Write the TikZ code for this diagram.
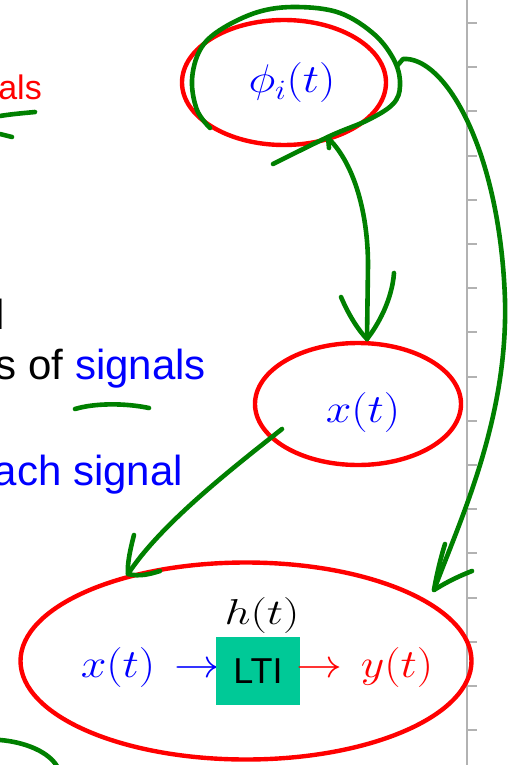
\RequirePackage{fix-cm}
\documentclass[tikz,border=0pt]{standalone}
\usepackage[no-math]{fontspec}
\setmainfont{Liberation Sans}
\usepackage{graphicx}
\usetikzlibrary{positioning}
\definecolor{ltigreen}{RGB}{0,201,151}
\definecolor{inkgreen}{RGB}{0,128,0}
\definecolor{rulegray}{RGB}{178,178,178}
\newcommand{\widemath}[2][1.15]{\scalebox{#1}[1]{#2}}

\begin{document}
\begin{tikzpicture}[x=1pt, y=-1pt,
  ink/.style={inkgreen, line width=4.6pt, line cap=round, line join=round},
  ring/.style={red, line width=4.4pt},
  slide/.style={inner sep=0pt, font=\fontsize{42}{50}\selectfont},
  sym/.style={inner sep=0pt, font=\fontsize{40}{48}\selectfont}]
  \useasboundingbox (0,0) rectangle (515,765);
  % ruler on the right
  \draw[rulegray, line width=2pt] (467,0) -- (467,765);
  \foreach \k in {0,...,16}
    \draw[rulegray, line width=2pt] (467,23+44.2*\k) -- (477,23+44.2*\k);

  % cropped slide text
  \node[slide, red, anchor=base east, font=\fontsize{34}{40}\selectfont] (als) at (42,100) {als};
  \node[slide, anchor=base west] (lcut) at (-4.5,329) {l};
  \node[slide, anchor=base east] (sig) at (206,379) {s of \textcolor{blue}{signals}};
  \node[slide, blue, anchor=base east] (each) at (183,485) {ach signal};

  % red rings
  \draw[ring] (284,82.5) ellipse [x radius=102, y radius=62.5];
  \draw[ring] (358,404) ellipse [x radius=103, y radius=61];
  \draw[ring] (246,661) ellipse [x radius=225.5, y radius=98.5];

  % labels
  \node[sym, blue, anchor=base] (phi) at (292,93) {\widemath{$\phi_i(t)$}};
  \node[sym, blue, anchor=base] (xsig) at (363,422) {\widemath{$x(t)$}};
  \node[sym, anchor=base, font=\fontsize{36}{42}\selectfont] (hlab) at (262,624) {\widemath[1.28]{$h(t)$}};
  \node[sym, blue, anchor=base] (xin) at (118,677) {\widemath{$x(t)$}};
  \node[sym, blue, anchor=base] (ain) at (197,677) {\widemath{$\rightarrow$}};
  \node[fill=ltigreen, minimum width=84, minimum height=68, inner sep=0pt,
        font=\fontsize{36}{42}\selectfont] (lti) at (258,671) {LTI};
  \node[sym, red, anchor=base] (aout) at (319,677) {\widemath{$\rightarrow$}};
  \node[sym, red, anchor=base] (yout) at (397,677) {\widemath{$y(t)$}};

  % hand strokes
  \draw[ink] (0,116) .. controls (12,114) and (25,113) .. (35,112);
  \draw[ink] (0,134) -- (12,137);
  \draw[ink] (75,409) .. controls (95,403) and (125,403) .. (149,408);
  \draw[ink] (0,740) .. controls (25,742) and (50,752) .. (58,768);

  % loop round phi
  \draw[ink] plot[smooth, tension=0.6] coordinates {(210,128) (197,110) (192,80)
    (200,50) (220,30) (258,12) (297,7) (340,13) (375,35) (395,62) (400,86)
    (393,104) (368,120) (330,136) (273,164)};

  \coordinate (phibot) at (329,139);
  \coordinate (xtop) at (367,339);
  \coordinate (xsrc) at (282,429);
  \coordinate (ltitop) at (128,574);
  \coordinate (loopR) at (397,66);
  \coordinate (ltiR) at (434,590);

  % phi -> x
  \draw[ink] (328,137) -- (329,148);
  \draw[ink] (phibot) .. controls (355,165) and (368,215) .. (368,265) -- (xtop);
  \draw[ink] (341,297) .. controls (350,318) and (360,332) .. (xtop);
  \draw[ink] (394,273) .. controls (392,300) and (378,325) .. (xtop);

  % x -> LTI
  \draw[ink] (xsrc) .. controls (230,470) and (160,525) .. (ltitop);
  \draw[ink] (134,535) .. controls (130,550) and (127,565) .. (ltitop)
    .. controls (140,577) and (150,574) .. (160,571);

  % phi -> LTI
  \draw[ink] (loopR) -- (403,59) .. controls (445,56) and (500,150) .. (505,300)
    .. controls (508,420) and (460,520) .. (ltiR);
  \draw[ink] (445,544) .. controls (440,560) and (436,578) .. (ltiR)
    .. controls (450,580) and (462,575) .. (472,571);
\end{tikzpicture}
\end{document}
